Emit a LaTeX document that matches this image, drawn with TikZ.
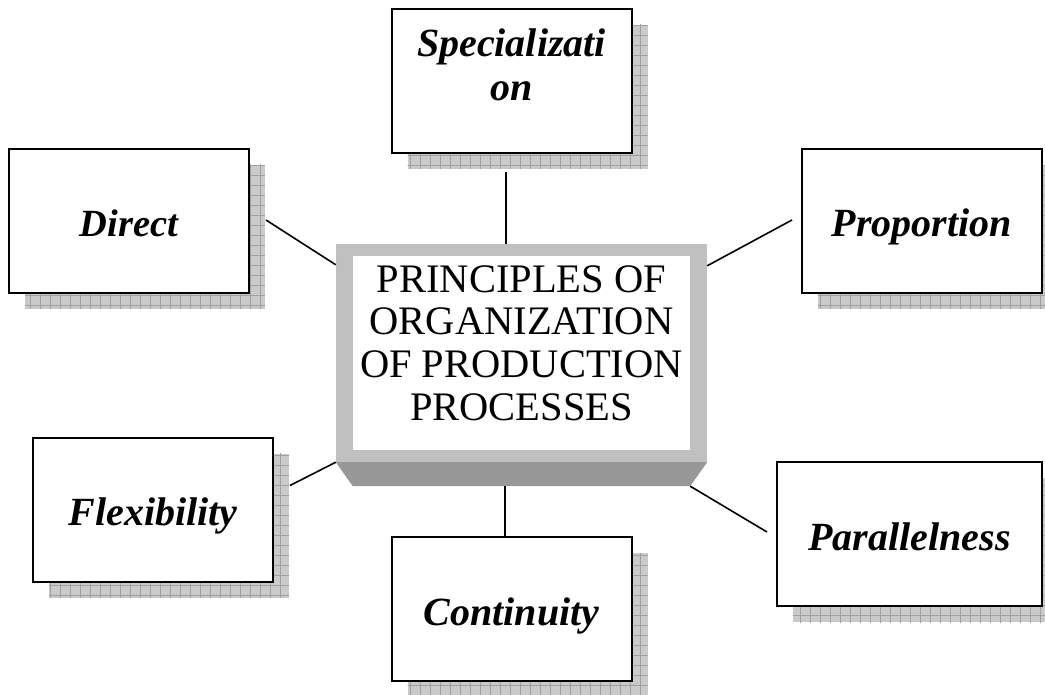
\documentclass[tikz,border=0pt]{standalone}
\usepackage{fontspec}
\setmainfont{Liberation Serif}
\usetikzlibrary{shadows,patterns.meta}
\definecolor{framegray}{HTML}{C0C0C0}
\definecolor{bevelgray}{HTML}{989898}
\definecolor{shadegray}{HTML}{CACACA}
\definecolor{gridgray}{HTML}{A0A0A0}

\begin{document}
\begin{tikzpicture}[x=1pt, y=-1pt,
  box/.style={rectangle, draw, line width=2pt, fill=white, minimum width=240pt, minimum height=144pt, inner sep=0pt, align=center,
    font=\bfseries\itshape\fontsize{40}{44}\selectfont,
    drop shadow={shadow xshift=16pt, shadow yshift=-16pt, fill=shadegray, opacity=1,
      postaction={pattern={Hatch[angle=0,distance=10pt,line width=0.7pt]}, pattern color=gridgray}}},
  oneline/.style={text height=36pt, text depth=4pt},
  link/.style={line width=1.6pt}]
\useasboundingbox (0,0) rectangle (1045,695);
\node[box, text depth=32pt] (spec) at (511.5,81) {Specializati\\on};
\node[box, oneline, font=\bfseries\itshape\fontsize{38.5}{44}\selectfont] (direct) at (129,221) {Direct};
\node[box, oneline] (prop) at (922,221) {Proportion};
\node[box, oneline] (flex) at (153,509.5) {Flexibility};
\node[box, oneline] (cont) at (511.5,609) {Continuity};
\node[box, oneline, minimum width=265pt] (para) at (909.5,534) {Parallelness};
% centre block with bevel
\node[fill=framegray, minimum width=371pt, minimum height=218pt, inner sep=0pt] (frame) at (521.5,353) {};
\node[fill=white, minimum width=337pt, minimum height=194pt, inner sep=0pt] (princ) at (521.5,353) {};
\coordinate (bevL) at ([xshift=17pt,yshift=-24pt]frame.south west);
\coordinate (bevR) at ([xshift=-17pt,yshift=-24pt]frame.south east);
\fill[bevelgray] (frame.south west) -- (frame.south east) -- (bevR) -- (bevL) -- cycle;
\node[font=\fontsize{40.5}{42.7}\selectfont, align=center, anchor=north, inner sep=0pt] (princtext) at (521.5,265) {PRINCIPLES OF\\ORGANIZATION\\OF PRODUCTION\\PROCESSES};
\coordinate (specfoot) at ([xshift=-5.5pt,yshift=-18pt]spec.south);
\coordinate (conthead) at ([xshift=-6.5pt]cont.north);
\draw[link] (specfoot) -- (specfoot |- frame.north);
\draw[link] ([xshift=16pt,yshift=1pt]direct.east) -- ([yshift=-21pt]frame.north west);
\draw[link] ([yshift=-22pt]frame.north east) -- ([xshift=-9pt,yshift=1pt]prop.west);
\draw[link] ([xshift=16pt,yshift=24pt]flex.east) -- (frame.south west);
\draw[link] (conthead) -- (conthead |- bevL);
\draw[link] (bevR) -- ([xshift=-9pt,yshift=2pt]para.west);
\end{tikzpicture}
\end{document}
